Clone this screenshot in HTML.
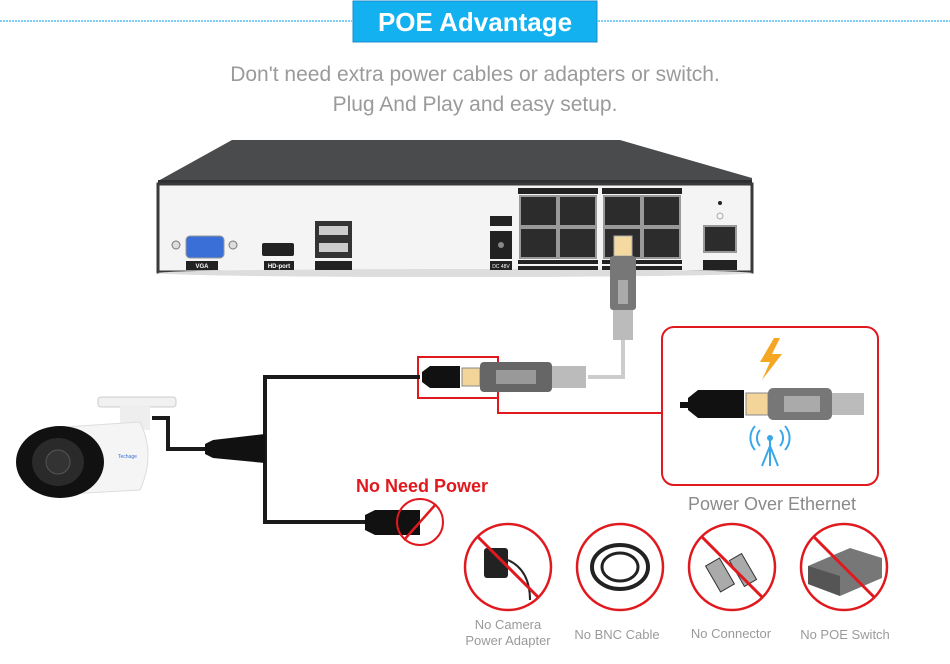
<!DOCTYPE html>
<html><head><meta charset="utf-8"><style>
html,body{margin:0;padding:0;background:#fff;}
svg{display:block;font-family:"Liberation Sans",Arial,sans-serif;}
</style></head><body>
<svg width="950" height="664" viewBox="0 0 950 664" xmlns="http://www.w3.org/2000/svg">
<!-- header -->
<line x1="0" y1="21" x2="352" y2="21" stroke="#7fcdf0" stroke-width="2" stroke-dasharray="2,1"/>
<line x1="598" y1="21" x2="950" y2="21" stroke="#7fcdf0" stroke-width="2" stroke-dasharray="2,1"/>
<rect x="353" y="1" width="244" height="41" fill="#14b1f0" stroke="#1c8ccc" stroke-width="1"/>
<text x="475" y="31" text-anchor="middle" fill="#fff" font-size="26" font-weight="bold">POE Advantage</text>
<text x="475" y="81" text-anchor="middle" fill="#9a9a9a" font-size="21">Don't need extra power cables or adapters or switch.</text>
<text x="475" y="111" text-anchor="middle" fill="#9a9a9a" font-size="21">Plug And Play and easy setup.</text>

<!-- NVR -->
<polygon points="158,181 232,140 620,140 752,178 752,184 158,184" fill="#4a4b4d"/>
<rect x="158" y="180" width="594" height="5" fill="#2e2f31"/>
<rect x="158" y="184" width="594" height="88" fill="#f4f4f4" stroke="#3a3a3a" stroke-width="3"/>
<ellipse cx="455" cy="273" rx="297" ry="4" fill="#ddd"/>
<!-- VGA -->
<rect x="186" y="236" width="38" height="22" rx="4" fill="#3a6fd8" stroke="#999"/>
<circle cx="176" cy="245" r="4" fill="#ddd" stroke="#777"/><circle cx="233" cy="245" r="4" fill="#ddd" stroke="#777"/>
<rect x="186" y="261" width="32" height="9" fill="#222"/><text x="202" y="268" font-size="6" fill="#fff" text-anchor="middle" font-weight="bold">VGA</text>
<!-- HDMI -->
<rect x="262" y="243" width="32" height="13" rx="2" fill="#222"/>
<rect x="264" y="261" width="30" height="9" fill="#222"/><text x="279" y="268" font-size="6" fill="#fff" text-anchor="middle" font-weight="bold">HD-port</text>
<!-- USB -->
<rect x="315" y="221" width="37" height="37" fill="#333"/>
<rect x="319" y="226" width="29" height="9" fill="#ccc"/><rect x="319" y="243" width="29" height="9" fill="#ccc"/>
<rect x="315" y="261" width="37" height="9" fill="#222"/>
<!-- DC -->
<rect x="490" y="216" width="22" height="10" fill="#222"/>
<rect x="490" y="231" width="22" height="28" fill="#222"/><circle cx="501" cy="245" r="3" fill="#888"/>
<rect x="490" y="261" width="22" height="9" fill="#222"/><text x="501" y="268" font-size="5" fill="#fff" text-anchor="middle">DC 48V</text>
<!-- POE groups -->
<g fill="#222">
<rect x="518" y="188" width="80" height="6"/><rect x="602" y="188" width="80" height="6"/>
<rect x="518" y="260" width="80" height="4"/><rect x="518" y="266" width="80" height="4"/>
<rect x="602" y="260" width="80" height="4"/><rect x="602" y="266" width="80" height="4"/>
</g>
<g fill="#2c2c2c" stroke="#999" stroke-width="2">
<rect x="520" y="196" width="37" height="30"/><rect x="559" y="196" width="37" height="30"/>
<rect x="520" y="228" width="37" height="30"/><rect x="559" y="228" width="37" height="30"/>
<rect x="604" y="196" width="37" height="30"/><rect x="643" y="196" width="37" height="30"/>
<rect x="604" y="228" width="37" height="30"/><rect x="643" y="228" width="37" height="30"/>
</g>
<!-- LAN -->
<rect x="704" y="226" width="32" height="26" fill="#2c2c2c" stroke="#999" stroke-width="2"/>
<rect x="703" y="260" width="34" height="10" fill="#222"/>
<circle cx="720" cy="203" r="2" fill="#222"/><circle cx="720" cy="216" r="3" fill="none" stroke="#aaa"/>

<!-- grey cable from NVR -->
<rect x="614" y="236" width="18" height="20" fill="#f4d9a0" stroke="#aaa"/>
<rect x="610" y="256" width="26" height="54" rx="3" fill="#777"/>
<rect x="618" y="280" width="10" height="24" fill="#aaa"/>
<rect x="613" y="310" width="20" height="30" fill="#bbb"/>
<polyline points="623,340 623,377 588,377" fill="none" stroke="#ccc" stroke-width="4"/>
<!-- red rect connector -->
<rect x="418" y="357" width="80" height="41" fill="none" stroke="#e0191e" stroke-width="2"/>
<polygon points="422,372 430,366 460,366 460,388 430,388 422,382" fill="#111"/>
<rect x="462" y="368" width="18" height="18" fill="#f3d59a" stroke="#888"/>
<rect x="480" y="362" width="72" height="30" rx="4" fill="#666"/>
<rect x="496" y="370" width="40" height="14" fill="#999"/>
<rect x="552" y="366" width="34" height="22" fill="#bbb"/>
<polyline points="498,398 498,413 662,413" fill="none" stroke="#e0191e" stroke-width="2"/>

<!-- POE box -->
<rect x="662" y="327" width="216" height="158" rx="12" fill="#fff" stroke="#e0191e" stroke-width="2"/>
<polygon points="774,338 760,362 770,362 762,380 782,354 772,354 780,338" fill="#f5a623"/>
<rect x="680" y="402" width="8" height="6" fill="#111"/>
<polygon points="688,398 698,390 744,390 744,418 698,418 688,410" fill="#111"/>
<rect x="746" y="393" width="22" height="22" fill="#f3d59a" stroke="#888"/>
<rect x="768" y="388" width="64" height="32" rx="5" fill="#777"/>
<rect x="784" y="396" width="36" height="16" fill="#aaa"/>
<rect x="832" y="393" width="32" height="22" fill="#bbb"/>
<g stroke="#3aa7e8" stroke-width="2" fill="none">
<line x1="770" y1="440" x2="770" y2="466"/><line x1="770" y1="446" x2="762" y2="466"/><line x1="770" y1="446" x2="778" y2="466"/>
<path d="M760 430 a12 12 0 0 0 0 16"/><path d="M780 430 a12 12 0 0 1 0 16"/>
<path d="M755 426 a18 18 0 0 0 0 24"/><path d="M785 426 a18 18 0 0 1 0 24"/>
</g>
<circle cx="770" cy="438" r="3" fill="#3aa7e8"/>
<text x="772" y="510" text-anchor="middle" fill="#8a8a8a" font-size="18">Power Over Ethernet</text>

<!-- black cables -->
<polyline points="420,377 265,377 265,522 375,522" fill="none" stroke="#1a1a1a" stroke-width="4"/>
<polyline points="152,418 168,418 168,449 205,449" fill="none" stroke="#1a1a1a" stroke-width="4"/>
<polygon points="205,444 213,440 265,434 265,463 213,458 205,454" fill="#111"/>
<polygon points="365,515 375,510 420,510 420,535 375,535 365,530" fill="#111"/>
<circle cx="420" cy="522" r="23" fill="none" stroke="#e0191e" stroke-width="2"/>
<line x1="404" y1="540" x2="436" y2="504" stroke="#e0191e" stroke-width="2.5"/>
<text x="422" y="492" text-anchor="middle" fill="#e0191e" font-size="18" font-weight="bold">No Need Power</text>

<!-- camera -->
<rect x="98" y="397" width="78" height="10" rx="3" fill="#f1f1f1" stroke="#ccc"/>
<rect x="120" y="405" width="30" height="25" fill="#eee"/>
<path d="M50 428 L140 422 Q156 455 140 490 L50 495 Z" fill="#f5f5f5" stroke="#ddd"/>
<ellipse cx="60" cy="462" rx="44" ry="36" fill="#111"/>
<ellipse cx="58" cy="462" rx="26" ry="24" fill="#2a2a2a"/>
<circle cx="58" cy="462" r="12" fill="#333" stroke="#555"/>
<text x="118" y="458" font-size="5" fill="#3a6fd8">Techage</text>

<!-- circles -->
<g fill="#fff" stroke="#e0191e" stroke-width="2.5">
<circle cx="508" cy="567" r="43"/><circle cx="620" cy="567" r="43"/><circle cx="732" cy="567" r="43"/><circle cx="844" cy="567" r="43"/>
</g>
<rect x="484" y="548" width="24" height="30" rx="3" fill="#222"/>
<path d="M508 560 Q530 570 530 600" fill="none" stroke="#222" stroke-width="2"/>
<ellipse cx="620" cy="567" rx="28" ry="22" fill="none" stroke="#222" stroke-width="4"/>
<ellipse cx="620" cy="567" rx="18" ry="14" fill="none" stroke="#222" stroke-width="3"/>
<rect x="712" y="560" width="16" height="30" fill="#aaa" stroke="#333" transform="rotate(-30 720 575)"/>
<rect x="736" y="555" width="14" height="30" fill="#aaa" stroke="#333" transform="rotate(-30 743 570)"/>
<polygon points="808,566 850,548 882,558 882,578 840,596 808,584" fill="#777"/>
<polygon points="808,566 840,576 840,596 808,584" fill="#555"/>
<g stroke="#e0191e" stroke-width="3">
<line x1="478" y1="537" x2="538" y2="597"/><line x1="702" y1="537" x2="762" y2="597"/><line x1="814" y1="537" x2="874" y2="597"/>
</g>
<g fill="#9a9a9a" font-size="13" text-anchor="middle">
<text x="508" y="629">No Camera</text><text x="508" y="645">Power Adapter</text>
<text x="617" y="639">No BNC Cable</text>
<text x="731" y="638">No Connector</text>
<text x="845" y="639">No POE Switch</text>
</g>
</svg>
</body></html>
